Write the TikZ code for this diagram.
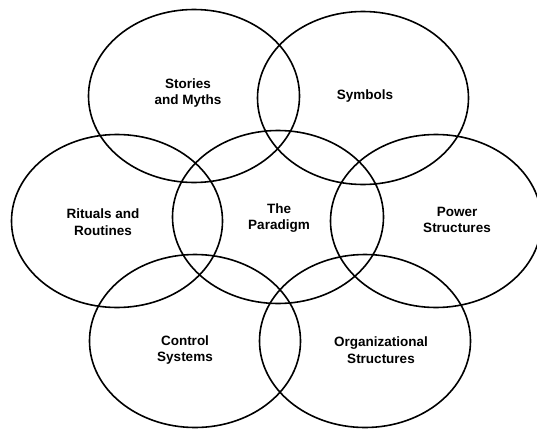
\documentclass[tikz,border=0pt]{standalone}
\usepackage{fontspec}
\setmainfont{Liberation Sans}
\usetikzlibrary{shapes.geometric}
\begin{document}
\begin{tikzpicture}[x=1pt,y=-1pt,
  web/.style={draw=black, line width=1.6pt, ellipse, inner sep=0pt,
    minimum width=211pt, minimum height=173pt},
  tag/.style={align=center, font=\fontsize{13.5}{16.5}\selectfont\bfseries, text=black}]
\useasboundingbox (0,0) rectangle (537,428);
% the seven overlapping elements of the web
\node[web] (stories)  at (194,96)  {};
\node[web] (symbols)  at (363,98)  {};
\node[web] (rituals)  at (117,221) {};
\node[web] (paradigm) at (278,217) {};
\node[web] (power)    at (436,221) {};
\node[web] (control)  at (195,341) {};
\node[web] (org)      at (365,341) {};
% labels
\node[tag] (storiesT)  at (188,93)  {Stories\\and Myths};
\node[tag] (symbolsT)  at (365,96)  {Symbols};
\node[tag] (ritualsT)  at (103,222) {Rituals and\\Routines};
\node[tag] (paradigmT) at (279,218) {The\\Paradigm};
\node[tag] (powerT)    at (457,220) {Power\\Structures};
\node[tag] (controlT)  at (185,350) {Control\\Systems};
\node[tag] (orgT)      at (381,350) {Organizational\\Structures};
\end{tikzpicture}
\end{document}
